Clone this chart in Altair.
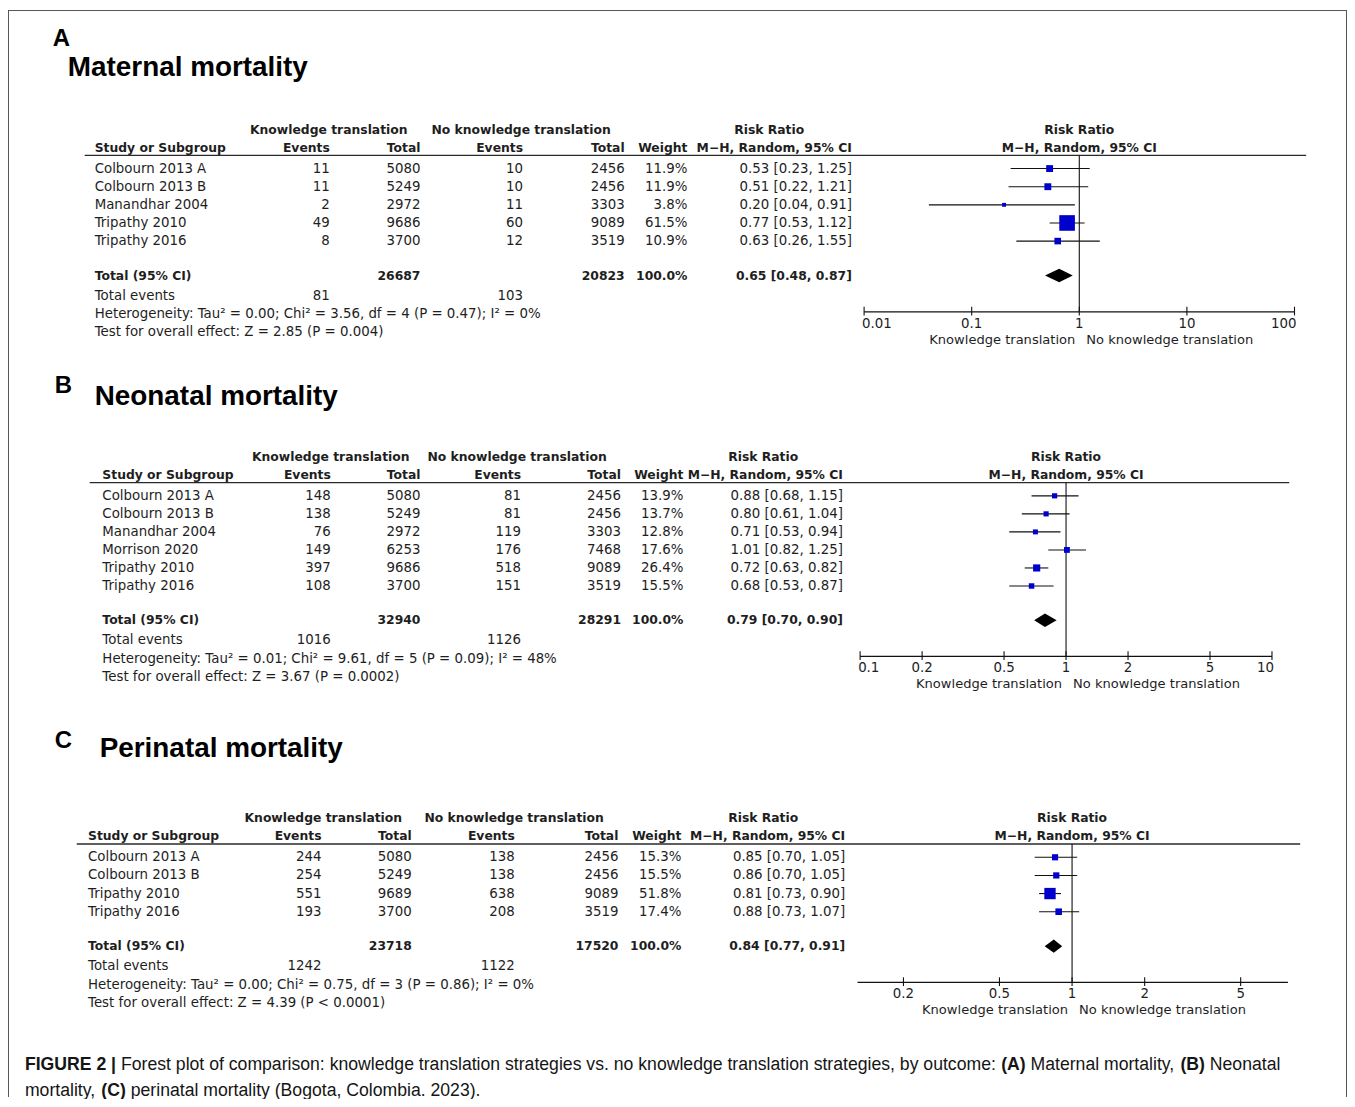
import altair as alt
import pandas as pd

# ------------------------------------------------------------------ data
A_studies = ["Colbourn 2013 A", "Colbourn 2013 B", "Manandhar 2004", "Tripathy 2010", "Tripathy 2016"]
A_kt_events = [11, 11, 2, 49, 8]
A_kt_total = [5080, 5249, 2972, 9686, 3700]
A_nkt_events = [10, 10, 11, 60, 12]
A_nkt_total = [2456, 2456, 3303, 9089, 3519]
A_weight = [11.9, 11.9, 3.8, 61.5, 10.9]
A_rr = [0.53, 0.51, 0.20, 0.77, 0.63]
A_rr_low = [0.23, 0.22, 0.04, 0.53, 0.26]
A_rr_high = [1.25, 1.21, 0.91, 1.12, 1.55]
A_pooled = [0.65, 0.48, 0.87]
A_heterogeneity = "Heterogeneity: Tau² = 0.00; Chi² = 3.56, df = 4 (P = 0.47); I² = 0%"
A_overall = "Test for overall effect: Z = 2.85 (P = 0.004)"
A_ticks = [0.01, 0.1, 1, 10, 100]
A_axis_range = [0.01, 100]

B_studies = ["Colbourn 2013 A", "Colbourn 2013 B", "Manandhar 2004", "Morrison 2020", "Tripathy 2010", "Tripathy 2016"]
B_kt_events = [148, 138, 76, 149, 397, 108]
B_kt_total = [5080, 5249, 2972, 6253, 9686, 3700]
B_nkt_events = [81, 81, 119, 176, 518, 151]
B_nkt_total = [2456, 2456, 3303, 7468, 9089, 3519]
B_weight = [13.9, 13.7, 12.8, 17.6, 26.4, 15.5]
B_rr = [0.88, 0.80, 0.71, 1.01, 0.72, 0.68]
B_rr_low = [0.68, 0.61, 0.53, 0.82, 0.63, 0.53]
B_rr_high = [1.15, 1.04, 0.94, 1.25, 0.82, 0.87]
B_pooled = [0.79, 0.70, 0.90]
B_heterogeneity = "Heterogeneity: Tau² = 0.01; Chi² = 9.61, df = 5 (P = 0.09); I² = 48%"
B_overall = "Test for overall effect: Z = 3.67 (P = 0.0002)"
B_ticks = [0.1, 0.2, 0.5, 1, 2, 5, 10]
B_axis_range = [0.1, 10]

C_studies = ["Colbourn 2013 A", "Colbourn 2013 B", "Tripathy 2010", "Tripathy 2016"]
C_kt_events = [244, 254, 551, 193]
C_kt_total = [5080, 5249, 9689, 3700]
C_nkt_events = [138, 138, 638, 208]
C_nkt_total = [2456, 2456, 9089, 3519]
C_weight = [15.3, 15.5, 51.8, 17.4]
C_rr = [0.85, 0.86, 0.81, 0.88]
C_rr_low = [0.70, 0.70, 0.73, 0.73]
C_rr_high = [1.05, 1.05, 0.90, 1.07]
C_pooled = [0.84, 0.77, 0.91]
C_heterogeneity = "Heterogeneity: Tau² = 0.00; Chi² = 0.75, df = 3 (P = 0.86); I² = 0%"
C_overall = "Test for overall effect: Z = 4.39 (P < 0.0001)"
C_ticks = [0.2, 0.5, 1, 2, 5]
C_axis_range = [0.129, 7.85]

panel_letters = ["A", "B", "C"]
panel_titles = ["Maternal mortality", "Neonatal mortality", "Perinatal mortality"]

caption_line1 = [("FIGURE 2 |", True),
                 (" Forest plot of comparison: knowledge translation strategies vs. no knowledge translation strategies, by outcome: ", False),
                 ("(A)", True), (" Maternal mortality, ", False), ("(B)", True), (" Neonatal", False)]
caption_line2 = [("mortality, ", False), ("(C)", True), (" perinatal mortality (Bogota, Colombia. 2023).", False)]

DATA = {
    "A": dict(studies=A_studies, kt_ev=A_kt_events, kt_tot=A_kt_total, nkt_ev=A_nkt_events, nkt_tot=A_nkt_total,
              weight=A_weight, rr=A_rr, lo=A_rr_low, hi=A_rr_high, pooled=A_pooled, het=A_heterogeneity,
              test=A_overall, ticks=A_ticks, axis=A_axis_range),
    "B": dict(studies=B_studies, kt_ev=B_kt_events, kt_tot=B_kt_total, nkt_ev=B_nkt_events, nkt_tot=B_nkt_total,
              weight=B_weight, rr=B_rr, lo=B_rr_low, hi=B_rr_high, pooled=B_pooled, het=B_heterogeneity,
              test=B_overall, ticks=B_ticks, axis=B_axis_range),
    "C": dict(studies=C_studies, kt_ev=C_kt_events, kt_tot=C_kt_total, nkt_ev=C_nkt_events, nkt_tot=C_nkt_total,
              weight=C_weight, rr=C_rr, lo=C_rr_low, hi=C_rr_high, pooled=C_pooled, het=C_heterogeneity,
              test=C_overall, ticks=C_ticks, axis=C_axis_range),
}

# ------------------------------------------------------------------ layout / style
OFF = 8            # page margin (layout given in page pixels)
W, H = 1344, 1091
FONT_T = "DejaVu Sans"
FONT_H = "Liberation Sans"
TXT = "#1e1e1e"
BLUE = "#0000cc"
FS_REG, FS_BOLD = 13.4, 12.4

LAY = {
    "A": dict(y0=128.0, pitch=18.2, x_study=95, x_ev1=331, x_tot1=422, x_ev2=525, x_tot2=627, x_w=690,
              x_rr=855, x_kt=330, x_nkt=523, x_rrh=772, line=(85, 1311), fx=(867.3, 1299.3), sq100=400,
              letter=(53, 44), title=(68, 74)),
    "B": dict(y0=456.7, pitch=18.1, x_study=102.7, x_ev1=332, x_tot1=422, x_ev2=523, x_tot2=623.3, x_w=686,
              x_rr=846, x_kt=332, x_nkt=519, x_rrh=766, line=(90, 1294), fx=(863.3, 1276.7), sq100=195,
              letter=(55, 392), title=(95, 404)),
    "C": dict(y0=819.3, pitch=18.2, x_study=88.3, x_ev1=322.7, x_tot1=413.3, x_ev2=516.7, x_tot2=620.7, x_w=684,
              x_rr=848.3, x_kt=324.5, x_nkt=516, x_rrh=766, line=(77, 1305), fx=(860.7, 1292.7), sq100=250,
              letter=(55, 749), title=(100, 758)),
}
R_H1, R_H2, R_LINE, R_FIRST = 0.0, 1.0, 1.42, 2.15
GAP_TOTAL, GAP_TEV, GAP_HET, GAP_TEST = 1.9, 1.12, 1.02, 1.0
GAP_AXIS, GAP_TICKLAB, GAP_SUB = 2.0, 0.65, 1.53
TICK_UP, TICK_DN, DIAMOND_H = 0.28, 0.2, 0.37


def build_panel(d, L):
    n = len(d["studies"])
    p = L["pitch"]
    ys = alt.Scale(domain=[0, 40], range=[L["y0"] - OFF, L["y0"] - OFF + 40 * p], nice=False, zero=False)
    xs = alt.Scale(type="log", domain=d["axis"], range=[L["fx"][0] - OFF, L["fx"][1] - OFF], nice=False)

    def Y(f="row"):
        return alt.Y(f + ":Q", scale=ys, axis=None, stack=False)

    def X(f):
        return alt.X(f + ":Q", scale=xs, axis=None)

    r_study = [R_FIRST + i for i in range(n)]
    r_total = r_study[-1] + GAP_TOTAL
    r_tev = r_total + GAP_TEV
    r_het = r_tev + GAP_HET
    r_test = r_het + GAP_TEST
    r_axis = r_total + GAP_AXIS

    cells = []

    def add(t, r, xk, al, b):
        cells.append(dict(text=str(t), row=r, xk=xk, align=al, bold=b))

    add("Knowledge translation", R_H1, "x_kt", "center", True)
    add("No knowledge translation", R_H1, "x_nkt", "center", True)
    add("Risk Ratio", R_H1, "x_rrh", "center", True)
    add("Study or Subgroup", R_H2, "x_study", "left", True)
    add("Events", R_H2, "x_ev1", "right", True)
    add("Total", R_H2, "x_tot1", "right", True)
    add("Events", R_H2, "x_ev2", "right", True)
    add("Total", R_H2, "x_tot2", "right", True)
    add("Weight", R_H2, "x_w", "right", True)
    add("M\u2212H, Random, 95% CI", R_H2, "x_rr", "right", True)
    for i in range(n):
        r = r_study[i]
        add(d["studies"][i], r, "x_study", "left", False)
        add(d["kt_ev"][i], r, "x_ev1", "right", False)
        add(d["kt_tot"][i], r, "x_tot1", "right", False)
        add(d["nkt_ev"][i], r, "x_ev2", "right", False)
        add(d["nkt_tot"][i], r, "x_tot2", "right", False)
        add(f"{d['weight'][i]:.1f}%", r, "x_w", "right", False)
        add(f"{d['rr'][i]:.2f} [{d['lo'][i]:.2f}, {d['hi'][i]:.2f}]", r, "x_rr", "right", False)
    est, lo, hi = d["pooled"]
    add("Total (95% CI)", r_total, "x_study", "left", True)
    add(sum(d["kt_tot"]), r_total, "x_tot1", "right", True)
    add(sum(d["nkt_tot"]), r_total, "x_tot2", "right", True)
    add("100.0%", r_total, "x_w", "right", True)
    add(f"{est:.2f} [{lo:.2f}, {hi:.2f}]", r_total, "x_rr", "right", True)
    add("Total events", r_tev, "x_study", "left", False)
    add(sum(d["kt_ev"]), r_tev, "x_ev1", "right", False)
    add(sum(d["nkt_ev"]), r_tev, "x_ev2", "right", False)
    add(d["het"], r_het, "x_study", "left", False)
    add(d["test"], r_test, "x_study", "left", False)

    layers = []
    cdf = pd.DataFrame(cells)
    for (xk, al, b), g in cdf.groupby(["xk", "align", "bold"]):
        b = bool(b)
        layers.append(
            alt.Chart(g[["text", "row"]].reset_index(drop=True)).mark_text(
                align=al, baseline="middle", font=FONT_T, fontSize=FS_BOLD if b else FS_REG,
                fontWeight="bold" if b else "normal", color=TXT
            ).encode(x=alt.value(float(L[xk]) - OFF), y=Y(), text="text:N")
        )

    # header rule
    layers.append(
        alt.Chart(pd.DataFrame(dict(row=[R_LINE]))).mark_rule(color="#2a2a2a", strokeWidth=1.4).encode(
            x=alt.value(L["line"][0] - OFF), x2=alt.value(L["line"][1] - OFF), y=Y())
    )
    # forest header (centred on RR = 1)
    layers.append(
        alt.Chart(pd.DataFrame(dict(v=[1.0, 1.0], row=[R_H1, R_H2], text=["Risk Ratio", "M\u2212H, Random, 95% CI"])))
        .mark_text(align="center", baseline="middle", font=FONT_T, fontSize=FS_BOLD, fontWeight="bold", color=TXT)
        .encode(x=X("v"), y=Y(), text="text:N")
    )
    # line of no effect
    layers.append(
        alt.Chart(pd.DataFrame(dict(v=[1.0], r1=[R_LINE], r2=[r_axis]))).mark_rule(color="#111", strokeWidth=1.1)
        .encode(x=X("v"), y=Y("r1"), y2="r2:Q")
    )
    # study CIs and squares
    sdf = pd.DataFrame(dict(row=r_study, rr=d["rr"], lo=d["lo"], hi=d["hi"], w=d["weight"]))
    layers.append(
        alt.Chart(sdf).mark_rule(color="#111", strokeWidth=1.1).encode(x=X("lo"), x2="hi:Q", y=Y())
    )
    layers.append(
        alt.Chart(sdf).mark_square(filled=True, color=BLUE, opacity=1).encode(
            x=X("rr"), y=Y(),
            size=alt.Size("w:Q", scale=alt.Scale(type="linear", domain=[0, 100], range=[0, L["sq100"]]), legend=None))
    )
    # pooled diamond
    dia = pd.DataFrame(dict(v=[lo, est, hi], top=[r_total, r_total - DIAMOND_H, r_total],
                            bot=[r_total, r_total + DIAMOND_H, r_total]))
    layers.append(
        alt.Chart(dia).mark_area(orient="vertical", color="black", opacity=1, interpolate="linear")
        .encode(x=X("v"), y=Y("top"), y2="bot:Q")
    )
    # axis line, ticks, labels
    layers.append(
        alt.Chart(pd.DataFrame(dict(a=[d["axis"][0]], b=[d["axis"][1]], row=[r_axis])))
        .mark_rule(color="#111", strokeWidth=1.2).encode(x=X("a"), x2="b:Q", y=Y())
    )
    nt = len(d["ticks"])
    tdf = pd.DataFrame(dict(v=d["ticks"], r1=[r_axis - TICK_UP] * nt, r2=[r_axis + TICK_DN] * nt,
                            row=[r_axis + GAP_TICKLAB] * nt, text=[f"{t:g}" for t in d["ticks"]]))
    layers.append(
        alt.Chart(tdf).mark_rule(color="#111", strokeWidth=1.1).encode(x=X("v"), y=Y("r1"), y2="r2:Q")
    )
    first = tdf["v"] <= d["axis"][0] * 1.0001
    last = tdf["v"] >= d["axis"][1] * 0.9999
    mid = ~(first | last)
    for sel, al, dx in [(first, "left", -2), (last, "right", 2), (mid, "center", 0)]:
        sub = tdf[sel][["v", "row", "text"]].reset_index(drop=True)
        if len(sub) == 0:
            continue
        layers.append(
            alt.Chart(sub).mark_text(align=al, dx=dx, baseline="middle", font=FONT_T, fontSize=FS_REG, color=TXT)
            .encode(x=X("v"), y=Y(), text="text:N")
        )
    # direction labels
    for txt, al, dx in [("Knowledge translation", "right", -4), ("No knowledge translation", "left", 7)]:
        layers.append(
            alt.Chart(pd.DataFrame(dict(v=[1.0], row=[r_axis + GAP_SUB], text=[txt])))
            .mark_text(align=al, dx=dx, baseline="middle", font=FONT_T, fontSize=13.1, color=TXT)
            .encode(x=X("v"), y=Y(), text="text:N")
        )
    return alt.layer(*layers)


def label(text, x, y, size, bold=True, align="left", baseline="alphabetic"):
    return alt.Chart(pd.DataFrame(dict(t=[text]))).mark_text(
        align=align, baseline=baseline, font=FONT_H, fontSize=size,
        fontWeight="bold" if bold else "normal", color="#000000"
    ).encode(x=alt.value(x - OFF), y=alt.value(y - OFF), text="t:N")


# Helvetica/Arial advance widths (1/1000 em) for the caption characters
HREG = {' ': 278, '(': 333, ')': 333, ',': 278, '.': 278, ':': 278, '0': 556, '1': 556, '2': 556, '3': 556,
        'A': 667, 'B': 667, 'C': 722, 'F': 611, 'M': 833, 'N': 722, 'a': 556, 'b': 556, 'c': 500, 'd': 556,
        'e': 556, 'f': 278, 'g': 556, 'h': 556, 'i': 222, 'k': 500, 'l': 222, 'm': 833, 'n': 556, 'o': 556,
        'p': 556, 'r': 333, 's': 500, 't': 278, 'u': 556, 'v': 500, 'w': 722, 'y': 500}
HBOLD = {' ': 278, '(': 333, ')': 333, '2': 556, '|': 280, 'A': 722, 'B': 722, 'C': 722, 'E': 667, 'F': 611,
         'G': 778, 'I': 278, 'R': 722, 'U': 722}
CAP_SIZE = 17.7


def caption(segments, x0, yc):
    out = []
    x = x0
    for text, bold in segments:
        tbl = HBOLD if bold else HREG
        lead = len(text) - len(text.lstrip(" "))
        xs = x + lead * tbl[" "] * CAP_SIZE / 1000.0
        out.append(alt.Chart(pd.DataFrame(dict(t=[text.strip()]))).mark_text(
            align="left", baseline="middle", font=FONT_H, fontSize=CAP_SIZE,
            fontWeight="bold" if bold else "normal", color="#151515"
        ).encode(x=alt.value(xs - OFF), y=alt.value(yc - OFF), text="t:N"))
        x += sum(tbl.get(c, 556) for c in text) * CAP_SIZE / 1000.0
    return out


children = []
for key, letter, title in zip(["A", "B", "C"], panel_letters, panel_titles):
    L = LAY[key]
    children.append(build_panel(DATA[key], L))
    children.append(label(letter, L["letter"][0], L["letter"][1], 24))
    children.append(label(title, L["title"][0], L["title"][1], 28))

children += caption(caption_line1, 25, 1067)
children += caption(caption_line2, 25, 1093)

# outer frame (left, top, right)
frame = pd.DataFrame(dict(k=[0]))
children.append(alt.Chart(frame).mark_rule(color="#555", strokeWidth=1).encode(
    x=alt.value(0.5), y=alt.value(0), y2=alt.value(H)))
children.append(alt.Chart(frame).mark_rule(color="#555", strokeWidth=1).encode(
    x=alt.value(W - 0.5), y=alt.value(0), y2=alt.value(H)))
children.append(alt.Chart(frame).mark_rule(color="#555", strokeWidth=1).encode(
    x=alt.value(0), x2=alt.value(W), y=alt.value(0.5)))

chart = alt.layer(*children).resolve_scale(
    x="independent", y="independent", size="independent"
).properties(
    width=W, height=H, autosize=alt.AutoSizeParams(type="none"), padding=0, background="white"
).configure_view(stroke=None)

chart.save("out.html", embed_options={"renderer": "svg", "actions": False})
